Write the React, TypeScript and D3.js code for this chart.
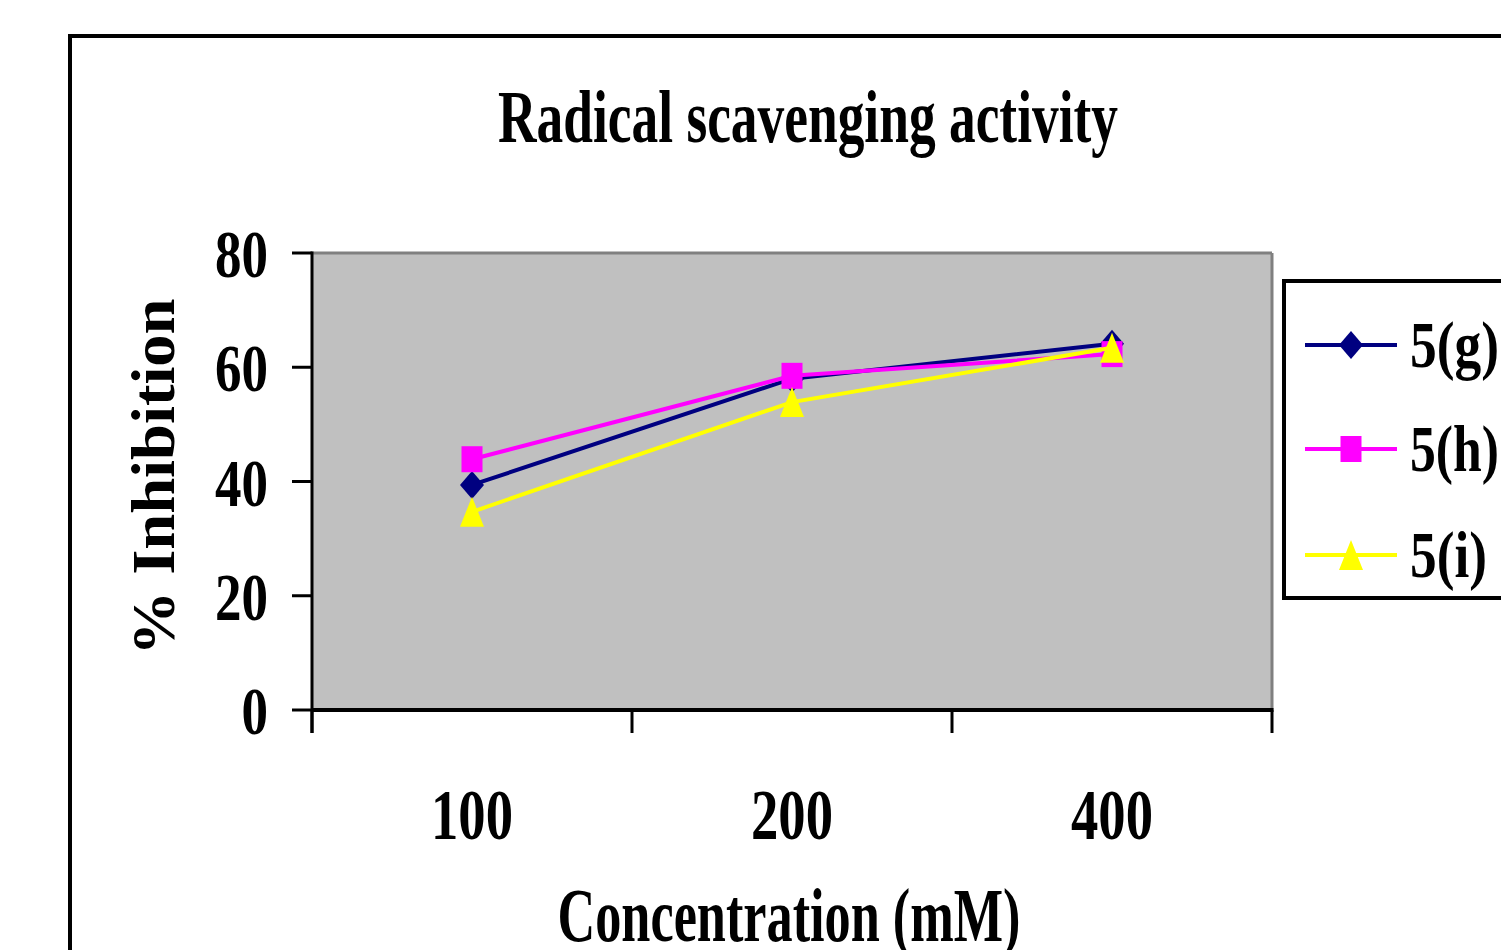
import React from "react";
import * as d3 from "d3";

const categories = ["100", "200", "400"];
const yTicks = [0, 20, 40, 60, 80];
const seriesNames = ["5(g)", "5(h)", "5(i)"];
const values5g = [39.4, 58.0, 64.1];
const values5h = [43.9, 58.5, 62.3];
const values5i = [34.7, 53.9, 63.4];
const seriesColors = ["#000080", "#FF00FF", "#FFFF00"];
const seriesMarkers = ["diamond", "square", "triangle"];
const seriesValues = [values5g, values5h, values5i];

const FONT = "'Liberation Serif', 'Times New Roman', serif";

function markerPath(type: string, cx: number, cy: number): string {
  if (type === "diamond") {
    const w = 12, h = 14;
    return `M${cx},${cy - h}L${cx + w},${cy}L${cx},${cy + h}L${cx - w},${cy}Z`;
  }
  if (type === "square") {
    const w = 10.5, h = 13;
    return `M${cx - w},${cy - h}H${cx + w}V${cy + h}H${cx - w}Z`;
  }
  const w = 12, h = 15;
  return `M${cx},${cy - h}L${cx + w},${cy + h}L${cx - w},${cy + h}Z`;
}

export default function App() {
  const left = 312, right = 1272, top = 253, bottom = 710;
  const x = d3.scaleBand<string>().domain(categories).range([left, right]);
  const y = d3.scaleLinear().domain([0, 80]).range([bottom, top]);
  const cx = (c: string) => (x(c) as number) + x.bandwidth() / 2;
  const line = d3
    .line<number>()
    .x((_, i) => cx(categories[i]))
    .y((d) => y(d));

  const xEdges = [...categories.map((c) => x(c) as number), right];
  const legendY = [345, 449, 555];
  const legendTextLen = [89, 89, 77];

  return (
    <svg
      width={1501}
      height={950}
      style={{ position: "absolute", left: 0, top: 0, background: "#fff" }}
      fontFamily={FONT}
      fontWeight="bold"
    >
      <rect x={0} y={0} width={1501} height={950} fill="#fff" />
      {/* outer chart border */}
      <rect x={70} y={36} width={1500} height={1000} fill="none" stroke="#000" strokeWidth={4} />

      {/* title */}
      <text x={808} y={142} fontSize={73} textAnchor="middle" textLength={620} lengthAdjust="spacingAndGlyphs">
        Radical scavenging activity
      </text>

      {/* plot area */}
      <rect x={left} y={top} width={right - left} height={bottom - top} fill="#C0C0C0" />
      <line x1={left} y1={top} x2={right} y2={top} stroke="#808080" strokeWidth={3} />
      <line x1={right} y1={top} x2={right} y2={bottom} stroke="#808080" strokeWidth={3} />

      {/* y axis */}
      <line x1={left} y1={top - 1.5} x2={left} y2={bottom + 23} stroke="#000" strokeWidth={3} />
      {yTicks.map((t) => (
        <g key={t}>
          <line x1={292} y1={y(t)} x2={left} y2={y(t)} stroke="#000" strokeWidth={3} />
          <text
            x={268}
            y={y(t) + 24}
            fontSize={67}
            textAnchor="end"
            textLength={String(t).length * 26.5}
            lengthAdjust="spacingAndGlyphs"
          >
            {t}
          </text>
        </g>
      ))}

      {/* x axis */}
      <line x1={left} y1={bottom} x2={right + 1.5} y2={bottom} stroke="#000" strokeWidth={4} />
      {xEdges.map((e, i) => (
        <line key={i} x1={e} y1={bottom} x2={e} y2={bottom + 23} stroke="#000" strokeWidth={3} />
      ))}
      {categories.map((c) => (
        <text
          key={c}
          x={cx(c)}
          y={839}
          fontSize={71}
          textAnchor="middle"
          textLength={82}
          lengthAdjust="spacingAndGlyphs"
        >
          {c}
        </text>
      ))}

      {/* axis titles */}
      <text x={789} y={941} fontSize={77} textAnchor="middle" textLength={463} lengthAdjust="spacingAndGlyphs">
        Concentration (mM)
      </text>
      <text
        transform="translate(174,477) rotate(-90)"
        fontSize={62}
        textAnchor="middle"
        textLength={357}
        lengthAdjust="spacingAndGlyphs"
      >
        % Inhibition
      </text>

      {/* series */}
      {seriesValues.map((vals, si) => (
        <g key={si}>
          <path d={line(vals) as string} fill="none" stroke={seriesColors[si]} strokeWidth={4} />
          {vals.map((v, i) => (
            <path key={i} d={markerPath(seriesMarkers[si], cx(categories[i]), y(v))} fill={seriesColors[si]} />
          ))}
        </g>
      ))}

      {/* legend */}
      <rect x={1284} y={281} width={300} height={317} fill="#fff" stroke="#000" strokeWidth={4} />
      {seriesNames.map((n, si) => (
        <g key={n}>
          <line x1={1305} y1={legendY[si]} x2={1397} y2={legendY[si]} stroke={seriesColors[si]} strokeWidth={4} />
          <path d={markerPath(seriesMarkers[si], 1351, legendY[si])} fill={seriesColors[si]} />
          <text
            x={1410}
            y={legendY[si] + 22}
            fontSize={65}
            textLength={legendTextLen[si]}
            lengthAdjust="spacingAndGlyphs"
          >
            {n}
          </text>
        </g>
      ))}
    </svg>
  );
}
